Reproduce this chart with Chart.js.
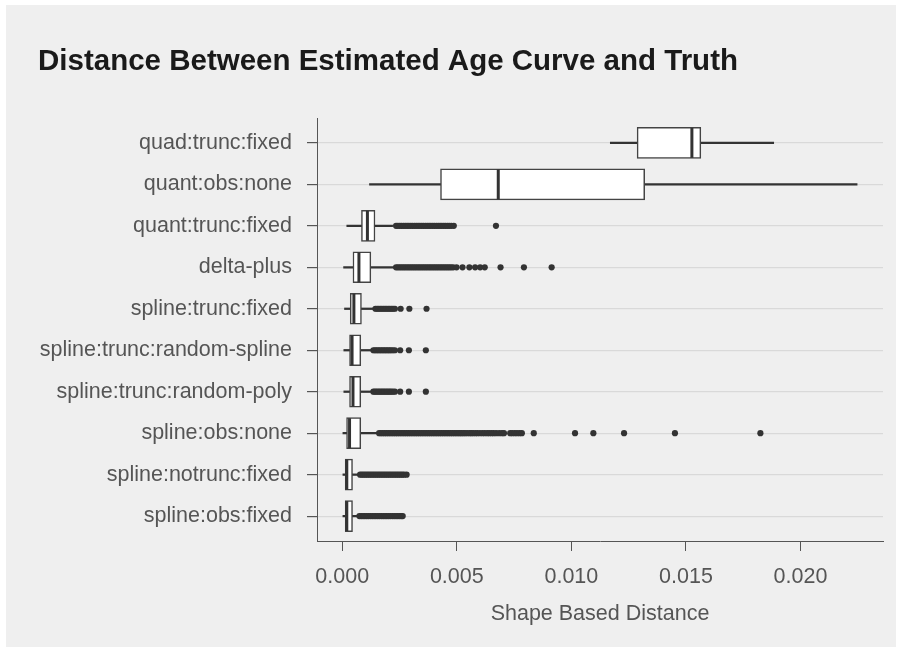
<!DOCTYPE html>
<html>
<head>
<meta charset="utf-8">
<script src="https://cdn.jsdelivr.net/npm/chart.js@4.4.1/dist/chart.umd.min.js"></script>
<style>
  body { margin: 0; background: #fff; }
  #wrap { position: relative; width: 901px; height: 652px; }
  #panel { position: absolute; left: 6px; top: 5px; right: 5px; bottom: 5px; background: #efefef; }
  #chart { position: absolute; left: 0; top: 0; }
</style>
</head>
<body>
<div id="wrap"><div id="panel"></div><canvas id="chart" width="901" height="652"></canvas></div>
<script>
// categories, top to bottom
var names = [
  'quad:trunc:fixed',
  'quant:obs:none',
  'quant:trunc:fixed',
  'delta-plus',
  'spline:trunc:fixed',
  'spline:trunc:random-spline',
  'spline:trunc:random-poly',
  'spline:obs:none',
  'spline:notrunc:fixed',
  'spline:obs:fixed'
];

// box plot summaries
var whiskerLow  = [0.01170, 0.00119, 0.00020, 0.00006, 0.00010, 0.00007, 0.00007, 0.00003, 0.00003, 0.00003];
var q1          = [0.01287, 0.00429, 0.00084, 0.00047, 0.00035, 0.00032, 0.00032, 0.00019, 0.00013, 0.00013];
var median      = [0.01526, 0.00681, 0.00110, 0.00073, 0.00051, 0.00043, 0.00047, 0.00032, 0.00020, 0.00020];
var q3          = [0.01565, 0.01320, 0.00143, 0.00125, 0.00084, 0.00081, 0.00081, 0.00081, 0.00045, 0.00045];
var whiskerHigh = [0.01883, 0.02247, 0.00220, 0.00230, 0.00141, 0.00133, 0.00133, 0.00155, 0.00071, 0.00068];

// outliers per category
var quadTruncFixedOut = [];
var quantObsNoneOut = [];
var quantTruncFixedOut = [0.00235, 0.00243, 0.00251, 0.00259, 0.00267, 0.00275, 0.00283, 0.00291, 0.00299,
  0.00307, 0.00315, 0.00323, 0.00331, 0.00339, 0.00347, 0.00355, 0.00363, 0.00371, 0.00379, 0.00387,
  0.00395, 0.00403, 0.00411, 0.00419, 0.00427, 0.00435, 0.00443, 0.00451, 0.00459, 0.00467, 0.00476,
  0.00487, 0.00671];
var deltaPlusOut = [0.00235, 0.00243, 0.00251, 0.00259, 0.00267, 0.00275, 0.00283, 0.00291, 0.00299,
  0.00307, 0.00315, 0.00323, 0.00331, 0.00339, 0.00347, 0.00355, 0.00363, 0.00371, 0.00379, 0.00387,
  0.00395, 0.00403, 0.00411, 0.00419, 0.00427, 0.00435, 0.00443, 0.00451, 0.00459, 0.00467, 0.00475,
  0.00484, 0.00499, 0.00525, 0.00555, 0.00580, 0.00602, 0.00622, 0.00691, 0.00793, 0.00914];
var splineTruncFixedOut = [0.00145, 0.00152, 0.00159, 0.00166, 0.00173, 0.00180, 0.00187, 0.00194, 0.00201,
  0.00208, 0.00215, 0.00222, 0.00230, 0.00255, 0.00293, 0.00368];
var splineRandSplineOut = [0.00136, 0.00143, 0.00150, 0.00157, 0.00164, 0.00171, 0.00178, 0.00185, 0.00192,
  0.00199, 0.00206, 0.00213, 0.00221, 0.00230, 0.00253, 0.00291, 0.00365];
var splineRandPolyOut = [0.00136, 0.00143, 0.00150, 0.00157, 0.00164, 0.00171, 0.00178, 0.00185, 0.00192,
  0.00199, 0.00206, 0.00213, 0.00221, 0.00230, 0.00253, 0.00291, 0.00365];
var splineObsNoneOut = [0.00161, 0.00169, 0.00177, 0.00185, 0.00193, 0.00201, 0.00209, 0.00217, 0.00225,
  0.00233, 0.00241, 0.00249, 0.00257, 0.00265, 0.00273, 0.00281, 0.00289, 0.00297, 0.00305, 0.00313,
  0.00321, 0.00329, 0.00337, 0.00345, 0.00353, 0.00361, 0.00369, 0.00377, 0.00385, 0.00393, 0.00401,
  0.00409, 0.00417, 0.00425, 0.00433, 0.00441, 0.00449, 0.00457, 0.00465, 0.00473, 0.00481, 0.00489,
  0.00497, 0.00505, 0.00513, 0.00520, 0.00528, 0.00536, 0.00545, 0.00555, 0.00563, 0.00571, 0.00581,
  0.00590, 0.00601, 0.00612, 0.00622, 0.00633, 0.00642, 0.00652, 0.00661, 0.00672, 0.00685, 0.00697,
  0.00706, 0.00733, 0.00742, 0.00753, 0.00763, 0.00774, 0.00784, 0.00836, 0.01016, 0.01096, 0.01230,
  0.01452, 0.01825];
var splineNotruncFixedOut = [0.00078, 0.00086, 0.00094, 0.00102, 0.00110, 0.00118, 0.00126, 0.00134, 0.00142,
  0.00150, 0.00158, 0.00166, 0.00174, 0.00182, 0.00190, 0.00198, 0.00206, 0.00214, 0.00222, 0.00230,
  0.00238, 0.00246, 0.00254, 0.00262, 0.00270, 0.00281];
var splineObsFixedOut = [0.00075, 0.00083, 0.00091, 0.00099, 0.00107, 0.00115, 0.00123, 0.00131, 0.00139,
  0.00147, 0.00155, 0.00163, 0.00171, 0.00179, 0.00187, 0.00195, 0.00203, 0.00211, 0.00219, 0.00227,
  0.00235, 0.00243, 0.00251, 0.00258, 0.00264];

var outliers = [quadTruncFixedOut, quantObsNoneOut, quantTruncFixedOut, deltaPlusOut, splineTruncFixedOut,
  splineRandSplineOut, splineRandPolyOut, splineObsNoneOut, splineNotruncFixedOut, splineObsFixedOut];

var xTicks = [0, 0.005, 0.010, 0.015, 0.020];

var ink = '#333333';
var axisGrey = '#555555';
Chart.defaults.font.family = "'Liberation Sans', Arial, sans-serif";

var boxData = [], whiskerData = [], medianData = [], outlierData = [];
for (var i = 0; i < names.length; i++) {
  boxData.push({x: [q1[i], q3[i]], y: i});
  whiskerData.push({x: [whiskerLow[i], whiskerHigh[i]], y: i});
  medianData.push({x: median[i], y: i});
  for (var j = 0; j < outliers[i].length; j++) {
    outlierData.push({x: outliers[i][j], y: i});
  }
}

new Chart(document.getElementById('chart'), {
  type: 'bar',
  data: {
    datasets: [
      {
        // whiskers: thin floating bars under the boxes
        data: whiskerData,
        backgroundColor: ink,
        borderWidth: 0,
        barThickness: 1.6,
        grouped: false,
        order: 3
      },
      {
        data: boxData,
        backgroundColor: '#ffffff',
        borderColor: '#444444',
        borderWidth: 1.5,
        borderSkipped: false,
        barThickness: 31,
        grouped: false,
        order: 2
      },
      {
        type: 'scatter',
        data: outlierData,
        pointRadius: 3.1,
        pointBackgroundColor: ink,
        pointBorderWidth: 0,
        order: 1
      },
      {
        type: 'scatter',
        data: medianData,
        pointStyle: 'line',
        pointRotation: 90,
        pointRadius: 15,
        pointBorderWidth: 3,
        pointBorderColor: ink,
        order: 0
      }
    ]
  },
  options: {
    indexAxis: 'y',
    responsive: false,
    animation: false,
    devicePixelRatio: 1,
    layout: { padding: { left: 38, right: 16, top: 0, bottom: 0 } },
    plugins: {
      legend: { display: false },
      tooltip: { enabled: false },
      title: {
        display: true,
        text: 'Distance Between Estimated Age Curve and Truth',
        align: 'start',
        color: '#1a1a1a',
        font: { size: 29.5, weight: 'bold' },
        padding: { top: 44, bottom: 38.6 }
      }
    },
    scales: {
      x: {
        type: 'linear',
        position: 'bottom',
        min: -0.0011,
        max: 0.0236,
        afterBuildTicks: function(s) {
          s.ticks = xTicks.map(function(v) { return {value: v}; });
        },
        afterFit: function(s) { s.height = 111; },
        ticks: {
          color: axisGrey,
          font: { size: 21.5 },
          padding: 13,
          maxRotation: 0,
          callback: function(v) { return v.toFixed(3); }
        },
        grid: { drawOnChartArea: false, drawTicks: true, tickLength: 10, tickColor: axisGrey },
        border: { display: true, color: axisGrey, width: 1 },
        title: {
          display: true,
          text: 'Shape Based Distance',
          color: axisGrey,
          font: { size: 21.5 },
          padding: { top: 0, bottom: 25 }
        }
      },
      y: {
        type: 'linear',
        reverse: true,
        offset: false,
        min: -0.6,
        max: 9.6,
        afterBuildTicks: function(s) {
          s.ticks = names.map(function(n, i) { return {value: i}; });
        },
        afterFit: function(s) { s.width = 279; },
        ticks: {
          color: axisGrey,
          font: { size: 21.5 },
          padding: 15,
          autoSkip: false,
          callback: function(v) { return names[Math.round(v)]; }
        },
        grid: { offset: false, color: '#d9d9d9', lineWidth: 1.2, tickLength: 10, tickColor: axisGrey },
        border: { display: true, color: axisGrey, width: 1 }
      }
    }
  }
});
</script>
</body>
</html>
